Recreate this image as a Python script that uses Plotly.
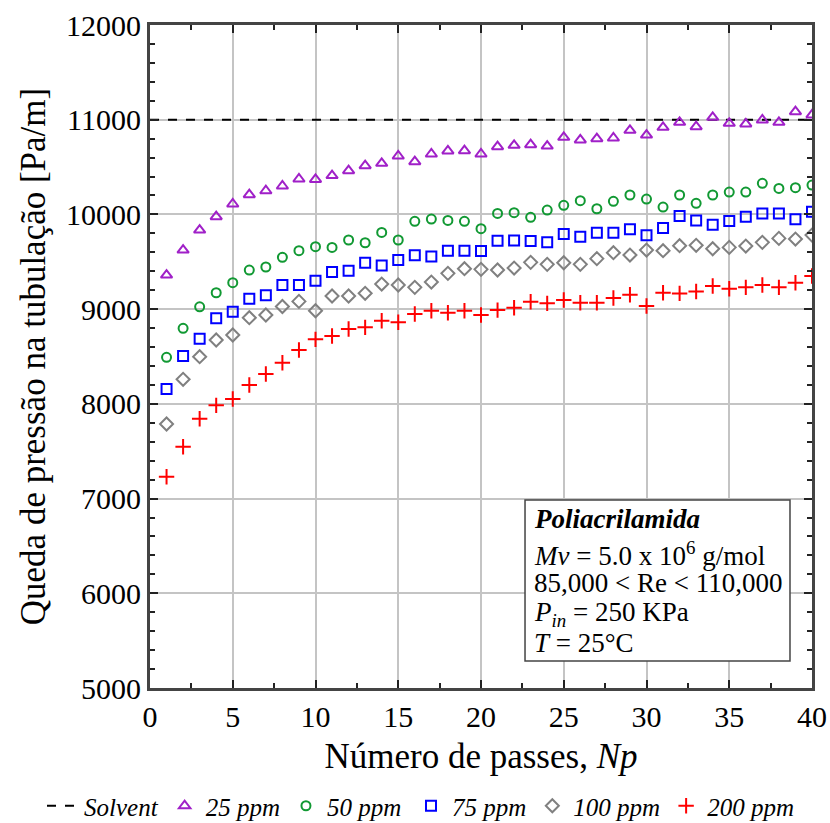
import plotly.graph_objects as go

passes = list(range(1, 41))
solvent_x = [0, 40]
solvent_y = [11000, 11000]

ppm25 = [9360, 9624, 9835, 9976, 10110, 10208, 10250, 10300, 10374, 10370,
         10410, 10462, 10515, 10540, 10617, 10557, 10638, 10670, 10673, 10638,
         10715, 10730, 10736, 10722, 10814, 10786, 10800, 10807, 10888, 10838,
         10920, 10973, 10926, 11025, 10962, 10955, 10997, 10973, 11085, 11050]
ppm50 = [8491, 8797, 9025, 9173, 9279, 9413, 9445, 9547, 9617, 9659,
         9652, 9730, 9701, 9810, 9730, 9927, 9951, 9937, 9927, 9849,
         10011, 10018, 9969, 10046, 10096, 10145, 10060, 10138, 10205, 10162,
         10078, 10205, 10117, 10205, 10236, 10236, 10328, 10275, 10282, 10310]
ppm75 = [8156, 8505, 8688, 8903, 8973, 9111, 9146, 9255, 9255, 9300,
         9392, 9406, 9490, 9462, 9518, 9568, 9557, 9617, 9617, 9613,
         9722, 9726, 9719, 9705, 9793, 9765, 9807, 9807, 9843, 9779,
         9856, 9983, 9937, 9891, 9930, 9976, 10011, 10011, 9948, 10029]
ppm100 = [7787, 8259, 8498, 8674, 8727, 8910, 8938, 9028, 9082, 8983,
          9139, 9139, 9167, 9265, 9255, 9230, 9286, 9378, 9427, 9420,
          9413, 9434, 9494, 9473, 9490, 9473, 9533, 9596, 9571, 9624,
          9617, 9670, 9674, 9638, 9652, 9666, 9705, 9747, 9740, 9782]
ppm200 = [7230, 7547, 7843, 7984, 8051, 8199, 8315, 8434, 8568, 8681,
          8716, 8790, 8808, 8878, 8861, 8949, 8983, 8962, 8983, 8938,
          8990, 9015, 9078, 9061, 9096, 9068, 9068, 9117, 9152, 9033,
          9173, 9166, 9187, 9244, 9216, 9230, 9255, 9230, 9279, 9350]

info_lines = [
    "<b><i>Poliacrilamida</i></b>",
    "<i>Mv</i> = 5.0 x 10<sup>6</sup> g/mol",
    "85,000 &lt; Re &lt; 110,000",
    "<i>P<sub>in</sub></i> = 250 KPa",
    "<i>T</i> = 25°C",
]

FONT = "Liberation Serif"

fig = go.Figure()
fig.add_trace(go.Scatter(x=solvent_x, y=solvent_y, mode="lines", name="<i>Solvent</i>",
                         legend="legend",
                         line=dict(color="black", width=2, dash="dash")))
series = [
    ("<i>25 ppm</i>", ppm25, "triangle-up-open", "#A020C8", 10, "legend"),
    ("<i>50 ppm</i>", ppm50, "circle-open", "#119933", 9, "legend"),
    ("<i>75 ppm</i>", ppm75, "square-open", "#0000FF", 10, "legend2"),
    ("<i>100 ppm</i>", ppm100, "diamond-open", "#808080", 10, "legend2"),
    ("<i>200 ppm</i>", ppm200, "cross-thin-open", "#FF0000", 11, "legend2"),
]
for name, ys, sym, col, sz, lg in series:
    fig.add_trace(go.Scatter(x=passes, y=ys, mode="markers", name=name, legend=lg,
                             marker=dict(symbol=sym, color=col, size=sz,
                                         line=dict(color=col, width=2))))

axis_common = dict(
    showline=True, linecolor="#444444", linewidth=3, mirror="allticks",
    ticks="inside", ticklen=8, tickwidth=2, tickcolor="#222222",
    showgrid=True, gridcolor="#c4c4c4", gridwidth=1.5, zeroline=False,
    tickfont=dict(family=FONT, size=30, color="black"),
)
fig.update_xaxes(range=[0, 40], dtick=5, tick0=0,
                 title=dict(text="Número de passes, <i>Np</i>",
                            font=dict(family=FONT, size=35, color="black"), standoff=12),
                 minor=dict(dtick=2.5, ticks="inside", ticklen=5, tickwidth=2,
                            tickcolor="#222222", showgrid=False),
                 **axis_common)
fig.update_yaxes(range=[5000, 12000], dtick=1000, tick0=5000, tickformat="d",
                 title=dict(text="Queda de pressão na tubulação [Pa/m]",
                            font=dict(family=FONT, size=35, color="black"), standoff=10),
                 minor=dict(dtick=200, ticks="inside", ticklen=5, tickwidth=2,
                            tickcolor="#222222", showgrid=False),
                 **axis_common)

# info box (frame + one annotation per line)
fig.add_shape(type="rect", xref="x", yref="y", x0=22.66, x1=38.67, y0=5285, y1=6985,
              line=dict(color="#444444", width=1.5), fillcolor="white", layer="above")
line_y = [6780, 6420, 6108, 5782, 5470]
for txt, yy in zip(info_lines, line_y):
    fig.add_annotation(x=23.1, y=yy, xref="x", yref="y", xanchor="left", yanchor="middle",
                       align="left", showarrow=False, text=txt,
                       font=dict(family=FONT, size=27, color="black"))

legend_common = dict(orientation="h", xref="container", yref="container",
                     y=17 / 823, yanchor="middle", xanchor="left",
                     font=dict(family=FONT, size=25, color="black"),
                     itemwidth=32, tracegroupgap=0, bgcolor="rgba(0,0,0,0)")
fig.update_layout(
    width=830, height=823,
    margin=dict(l=150, r=18, t=25, b=135, autoexpand=False),
    paper_bgcolor="white", plot_bgcolor="white",
    showlegend=True,
    legend=dict(x=42 / 830, **legend_common),
    legend2=dict(x=410 / 830, **legend_common),
)

fig.write_html("out.html")
